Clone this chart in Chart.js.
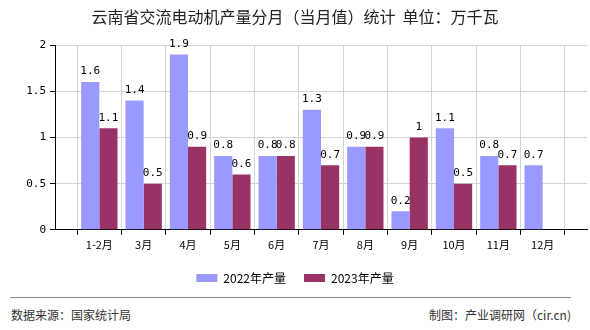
<!DOCTYPE html>
<html>
<head>
<meta charset="utf-8">
<script src="https://cdn.jsdelivr.net/npm/chart.js@4"></script>
<style>
  html, body { margin: 0; padding: 0; background: #fff; }
  #wrap { position: relative; width: 590px; height: 330px; font-family: "Noto Sans CJK SC", sans-serif; }
  #chart-box { position: absolute; left: 0; top: 0; width: 590px; height: 294px; }
  #rule { position: absolute; left: 10px; top: 297px; width: 561px; height: 0; border-top: 1px solid #888; }
  .foot { position: absolute; top: 306px; font-size: 12px; line-height: 18px; color: #333; }
  #src { left: 11px; }
  #maker { right: 19px; }
</style>
</head>
<body>
<div id="wrap">
  <div id="chart-box"><canvas id="c"></canvas></div>
  <div id="rule"></div>
  <div class="foot" id="src">数据来源：国家统计局</div>
  <div class="foot" id="maker">制图：产业调研网（cir.cn)</div>
</div>
<script>
// Data
const months = ['1-2月', '3月', '4月', '5月', '6月', '7月', '8月', '9月', '10月', '11月', '12月'];
const output2022 = [1.6, 1.4, 1.9, 0.8, 0.8, 1.3, 0.9, 0.2, 1.1, 0.8, 0.7];
const output2023 = [1.1, 0.5, 0.9, 0.6, 0.8, 0.7, 0.9, 1, 0.5, 0.7, null];
const yTicks = [0, 0.5, 1, 1.5, 2];

// empty slot at each end so bars sit on the grid lines
const labels = [''].concat(months, ['']);
const pad = arr => [null].concat(arr, [null]);

const monoFont = '"DejaVu Sans Mono", monospace';

// value labels above each bar
const barLabels = {
    id: 'barLabels',
    afterDatasetsDraw(chart) {
        const ctx = chart.ctx;
        ctx.save();
        ctx.font = '11px ' + monoFont;
        ctx.fillStyle = '#000';
        ctx.textAlign = 'center';
        ctx.textBaseline = 'bottom';
        chart.data.datasets.forEach((ds, i) => {
            const meta = chart.getDatasetMeta(i);
            meta.data.forEach((bar, j) => {
                const v = ds.data[j];
                if (v === null || v === undefined) return;
                ctx.fillText(String(v), bar.x, bar.y - 5);
            });
        });
        ctx.restore();
    }
};

new Chart(document.getElementById('c'), {
    type: 'bar',
    data: {
        labels: labels,
        datasets: [
            {
                label: '2022年产量',
                data: pad(output2022),
                backgroundColor: '#9999ff',
                barPercentage: 1,
                categoryPercentage: 0.82
            },
            {
                label: '2023年产量',
                data: pad(output2023),
                backgroundColor: '#993366',
                barPercentage: 1,
                categoryPercentage: 0.82
            }
        ]
    },
    options: {
        responsive: true,
        maintainAspectRatio: false,
        animation: false,
        layout: { padding: { left: 0, right: 0, top: 0, bottom: 0 } },
        plugins: {
            title: {
                display: true,
                text: '云南省交流电动机产量分月（当月值）统计  单位：万千瓦',
                color: '#222',
                font: { family: '"Noto Sans CJK SC", sans-serif', size: 16, weight: 'normal' },
                padding: { top: 7, bottom: 19 }
            },
            legend: {
                position: 'bottom',
                labels: {
                    boxWidth: 21,
                    boxHeight: 8,
                    padding: 18,
                    color: '#000',
                    font: { family: '"Noto Sans CJK SC", sans-serif', size: 12 }
                }
            },
            tooltip: { enabled: false }
        },
        scales: {
            x: {
                offset: false,
                grid: { color: '#d4d4d4', tickColor: '#000', tickLength: 5 },
                border: { color: '#000', width: 1 },
                ticks: {
                    color: '#000',
                    maxRotation: 0,
                    autoSkip: false,
                    font: { family: '"Noto Sans CJK SC", sans-serif', size: 11 }
                }
            },
            y: {
                min: 0,
                max: 2,
                afterBuildTicks: axis => { axis.ticks = yTicks.map(v => ({ value: v })); },
                afterFit: axis => { axis.width = 55; },
                grid: { color: '#d4d4d4', tickColor: '#000', tickLength: 5 },
                border: { color: '#000', width: 1 },
                ticks: {
                    color: '#000',
                    padding: 4,
                    font: { family: monoFont, size: 11 },
                    callback: v => String(v)
                }
            }
        }
    },
    plugins: [barLabels]
});
</script>
</body>
</html>
